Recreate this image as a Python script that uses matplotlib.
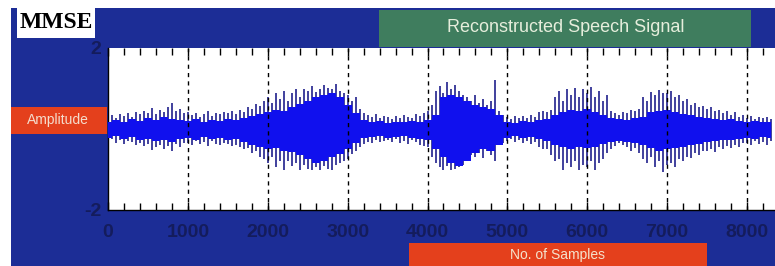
import numpy as np
import matplotlib
matplotlib.use("Agg")
import matplotlib.pyplot as plt
from matplotlib.patches import Rectangle

# ---------------- data ----------------
title = "Reconstructed Speech Signal"
xlabel = "No. of Samples"
ylabel = "Amplitude"
badge = "MMSE"
xticks = [0, 1000, 2000, 3000, 4000, 5000, 6000, 7000, 8000]
yticks = [-2, 2]

spike_step = 50  # samples between envelope readings
spike_hi = [
    0.30, 0.35, 0.28, 0.38, 0.33, 0.40, 0.30, 0.42, 0.36, 0.45,
    0.40, 0.52, 0.38, 0.48, 0.42, 0.55, 0.63, 0.45, 0.50, 0.40,
    0.42, 0.35, 0.40, 0.30, 0.38, 0.45, 0.33, 0.40, 0.36, 0.42,
    0.40, 0.45, 0.38, 0.48, 0.42, 0.55, 0.50, 0.62, 0.58, 0.70,
    0.80, 0.65, 0.90, 0.75, 0.95, 0.70, 0.88, 0.98, 0.80, 1.00,
    0.95, 1.05, 0.92, 1.00, 1.08, 1.02, 0.98, 1.10, 0.95, 0.88,
    0.85, 0.70, 0.78, 0.50, 0.40, 0.35, 0.30, 0.38, 0.28, 0.33,
    0.30, 0.25, 0.33, 0.28, 0.35, 0.30, 0.27, 0.38, 0.32, 0.40,
    0.45, 0.60, 0.95, 1.05, 0.90, 1.15, 1.00, 1.08, 0.95, 0.85,
    0.80, 0.70, 0.85, 0.65, 0.75, 0.60, 0.70, 1.20, 0.45, 0.35,
    0.30, 0.25, 0.33, 0.28, 0.32, 0.27, 0.35, 0.30, 0.42, 0.45,
    0.42, 0.48, 0.80, 0.95, 0.70, 1.00, 0.85, 1.02, 0.80, 0.98,
    0.90, 1.04, 0.80, 0.95, 0.70, 0.85, 0.45, 0.40, 0.35, 0.42,
    0.40, 0.48, 0.45, 0.50, 0.80, 0.70, 0.92, 0.85, 0.96, 0.90,
    0.88, 0.95, 0.80, 0.85, 0.70, 0.75, 0.60, 0.65, 0.55, 0.58,
    0.50, 0.55, 0.45, 0.48, 0.40, 0.45, 0.35, 0.42, 0.30, 0.35,
    0.28, 0.32, 0.25, 0.30, 0.27, 0.30, 0.25,
]
spike_lo = [
    -0.30, -0.25, -0.35, -0.28, -0.38, -0.30, -0.33, -0.40, -0.35, -0.42,
    -0.38, -0.52, -0.45, -0.40, -0.50, -0.42, -0.55, -0.38, -0.45, -0.35,
    -0.35, -0.40, -0.30, -0.38, -0.33, -0.42, -0.30, -0.36, -0.40, -0.35,
    -0.38, -0.42, -0.40, -0.45, -0.50, -0.48, -0.60, -0.55, -0.68, -0.75,
    -0.85, -0.70, -0.95, -0.78, -1.00, -0.80, -0.92, -0.85, -1.00, -0.90,
    -0.98, -1.02, -0.95, -1.00, -0.92, -0.98, -1.00, -0.90, -0.85, -0.80,
    -0.75, -0.62, -0.55, -0.45, -0.38, -0.32, -0.35, -0.28, -0.33, -0.30,
    -0.28, -0.33, -0.25, -0.35, -0.30, -0.38, -0.28, -0.33, -0.40, -0.42,
    -0.45, -0.70, -0.85, -0.95, -1.00, -0.92, -1.02, -0.98, -0.95, -0.88,
    -0.75, -0.65, -0.70, -0.60, -0.72, -0.55, -0.65, -0.80, -0.40, -0.35,
    -0.30, -0.25, -0.33, -0.28, -0.35, -0.30, -0.38, -0.33, -0.45, -0.50,
    -0.50, -0.65, -0.80, -0.75, -1.00, -0.85, -0.95, -0.78, -1.00, -0.90,
    -0.95, -0.80, -1.00, -0.85, -0.75, -0.60, -0.50, -0.42, -0.35, -0.40,
    -0.45, -0.55, -0.48, -0.60, -0.75, -0.85, -0.70, -0.95, -0.80, -1.05,
    -0.90, -0.85, -0.95, -0.75, -0.80, -0.70, -0.72, -0.60, -0.65, -0.55,
    -0.55, -0.50, -0.58, -0.45, -0.50, -0.42, -0.48, -0.40, -0.45, -0.35,
    -0.35, -0.40, -0.30, -0.38, -0.33, -0.40, -0.30,
]

core_step = 100
core_hi = [
    0.18, 0.22, 0.17, 0.24, 0.20, 0.26, 0.22, 0.30, 0.25, 0.22,
    0.20, 0.24, 0.18, 0.22, 0.20, 0.25, 0.22, 0.28, 0.32, 0.38,
    0.42, 0.48, 0.45, 0.55, 0.62, 0.70, 0.78, 0.85, 0.88, 0.80,
    0.60, 0.40, 0.22, 0.18, 0.20, 0.16, 0.18, 0.17, 0.20, 0.18,
    0.22, 0.35, 0.80, 0.85, 0.78, 0.70, 0.60, 0.55, 0.50, 0.35,
    0.18, 0.16, 0.20, 0.17, 0.22, 0.25, 0.35, 0.42, 0.48, 0.45,
    0.50, 0.42, 0.35, 0.28, 0.25, 0.22, 0.26, 0.30, 0.42, 0.45,
    0.48, 0.42, 0.38, 0.35, 0.30, 0.28, 0.25, 0.22, 0.24, 0.20,
    0.18, 0.20, 0.17, 0.18,
]
core_lo = [
    -0.22, -0.18, -0.25, -0.20, -0.28, -0.24, -0.30, -0.26, -0.32, -0.24,
    -0.22, -0.26, -0.20, -0.25, -0.22, -0.28, -0.25, -0.32, -0.40, -0.45,
    -0.50, -0.48, -0.55, -0.58, -0.65, -0.75, -0.85, -0.80, -0.70, -0.62,
    -0.50, -0.35, -0.22, -0.20, -0.18, -0.22, -0.20, -0.18, -0.22, -0.25,
    -0.28, -0.50, -0.70, -0.85, -0.92, -0.80, -0.60, -0.50, -0.55, -0.40,
    -0.22, -0.18, -0.22, -0.20, -0.25, -0.30, -0.40, -0.45, -0.50, -0.45,
    -0.48, -0.45, -0.38, -0.32, -0.30, -0.32, -0.35, -0.40, -0.48, -0.55,
    -0.50, -0.48, -0.45, -0.40, -0.38, -0.32, -0.30, -0.28, -0.26, -0.24,
    -0.22, -0.25, -0.20, -0.22,
]

# ---------------- styling ----------------
NAVY = "#1c2d96"
DARK = "#141c5c"
BLUE = "#1010ee"
SPIKE = "#20208c"
RED = "#e4401c"
GREEN = "#3f7d5e"

W, H = 775, 266
fig = plt.figure(figsize=(W / 100, H / 100), dpi=100, facecolor="white")

def fx(px):
    return px / W

def fy(py):
    return 1 - py / H

# navy panel (white margin on left and top)
fig.patches.append(Rectangle((fx(11), 0), 1 - fx(11), fy(8), transform=fig.transFigure,
                             facecolor=NAVY, edgecolor="none", zorder=0))
# MMSE badge
fig.patches.append(Rectangle((fx(17), fy(38)), fx(95 - 17), fy(8) - fy(38), transform=fig.transFigure,
                             facecolor="white", edgecolor="none", zorder=1))
fig.text(fx(56), fy(23), badge, ha="center", va="center", fontsize=17, fontweight="bold",
         family=["Liberation Serif", "DejaVu Serif"], color="black")
# title banner
fig.patches.append(Rectangle((fx(379), fy(47)), fx(751 - 379), fy(10) - fy(47), transform=fig.transFigure,
                             facecolor=GREEN, edgecolor="none", zorder=1))
fig.text(fx(566), fy(27), title, ha="center", va="center", fontsize=13,
         family=["Liberation Sans", "DejaVu Sans"], color="#e6eedc")
# amplitude label box
fig.patches.append(Rectangle((fx(11), fy(134)), fx(107 - 11), fy(107) - fy(134), transform=fig.transFigure,
                             facecolor=RED, edgecolor="none", zorder=1))
fig.text(fx(58), fy(120), ylabel, ha="center", va="center", fontsize=10,
         family=["Liberation Sans", "DejaVu Sans"], color="#f4dccc")
# x label box
fig.patches.append(Rectangle((fx(409), 0), fx(707 - 409), fy(243), transform=fig.transFigure,
                             facecolor=RED, edgecolor="none", zorder=1))
fig.text(fx(558), fy(255), xlabel, ha="center", va="center", fontsize=10,
         family=["Liberation Sans", "DejaVu Sans"], color="#f4e2cc")

# ---------------- axes ----------------
ax = fig.add_axes([fx(108), fy(210), 1 - fx(108), fy(48) - fy(210)])
ax.set_facecolor("white")
ax.set_zorder(2)

xs = np.arange(len(spike_hi)) * spike_step
xc = np.arange(len(core_hi)) * core_step
ax.vlines(xs, spike_lo, spike_hi, colors=SPIKE, linewidth=1.2, zorder=2)
ax.fill_between(xc, core_lo, core_hi, step="mid", color=BLUE, linewidth=0, zorder=3)

ax.set_xlim(0, 8350)
ax.set_ylim(-2, 2)
ax.set_xticks(xticks)
ax.set_xticks(np.arange(0, 8400, 200), minor=True)
ax.set_yticks(yticks)
ax.set_yticklabels(["-2", "2"])
for x in xticks[1:]:
    ax.axvline(x, color="black", linestyle=(0, (3, 3)), linewidth=1.0, zorder=4)

for lab in ax.get_xticklabels() + ax.get_yticklabels():
    lab.set_fontfamily(["Liberation Sans Narrow", "Liberation Sans", "DejaVu Sans"])
    lab.set_fontsize(14)
    lab.set_fontweight("bold")
    lab.set_color(DARK)
ax.tick_params(axis="x", which="both", direction="in", top=True, bottom=True,
               color="black", pad=10)
ax.tick_params(axis="x", which="major", length=6, width=1)
ax.tick_params(axis="x", which="minor", length=5, width=1)
ax.tick_params(axis="y", direction="in", length=0, pad=5)
for s in ax.spines.values():
    s.set_color("black")
    s.set_linewidth(1.0)
ax.spines["top"].set_visible(False)
ax.spines["right"].set_visible(False)

fig.savefig("out.png", dpi=100, facecolor=fig.get_facecolor())
